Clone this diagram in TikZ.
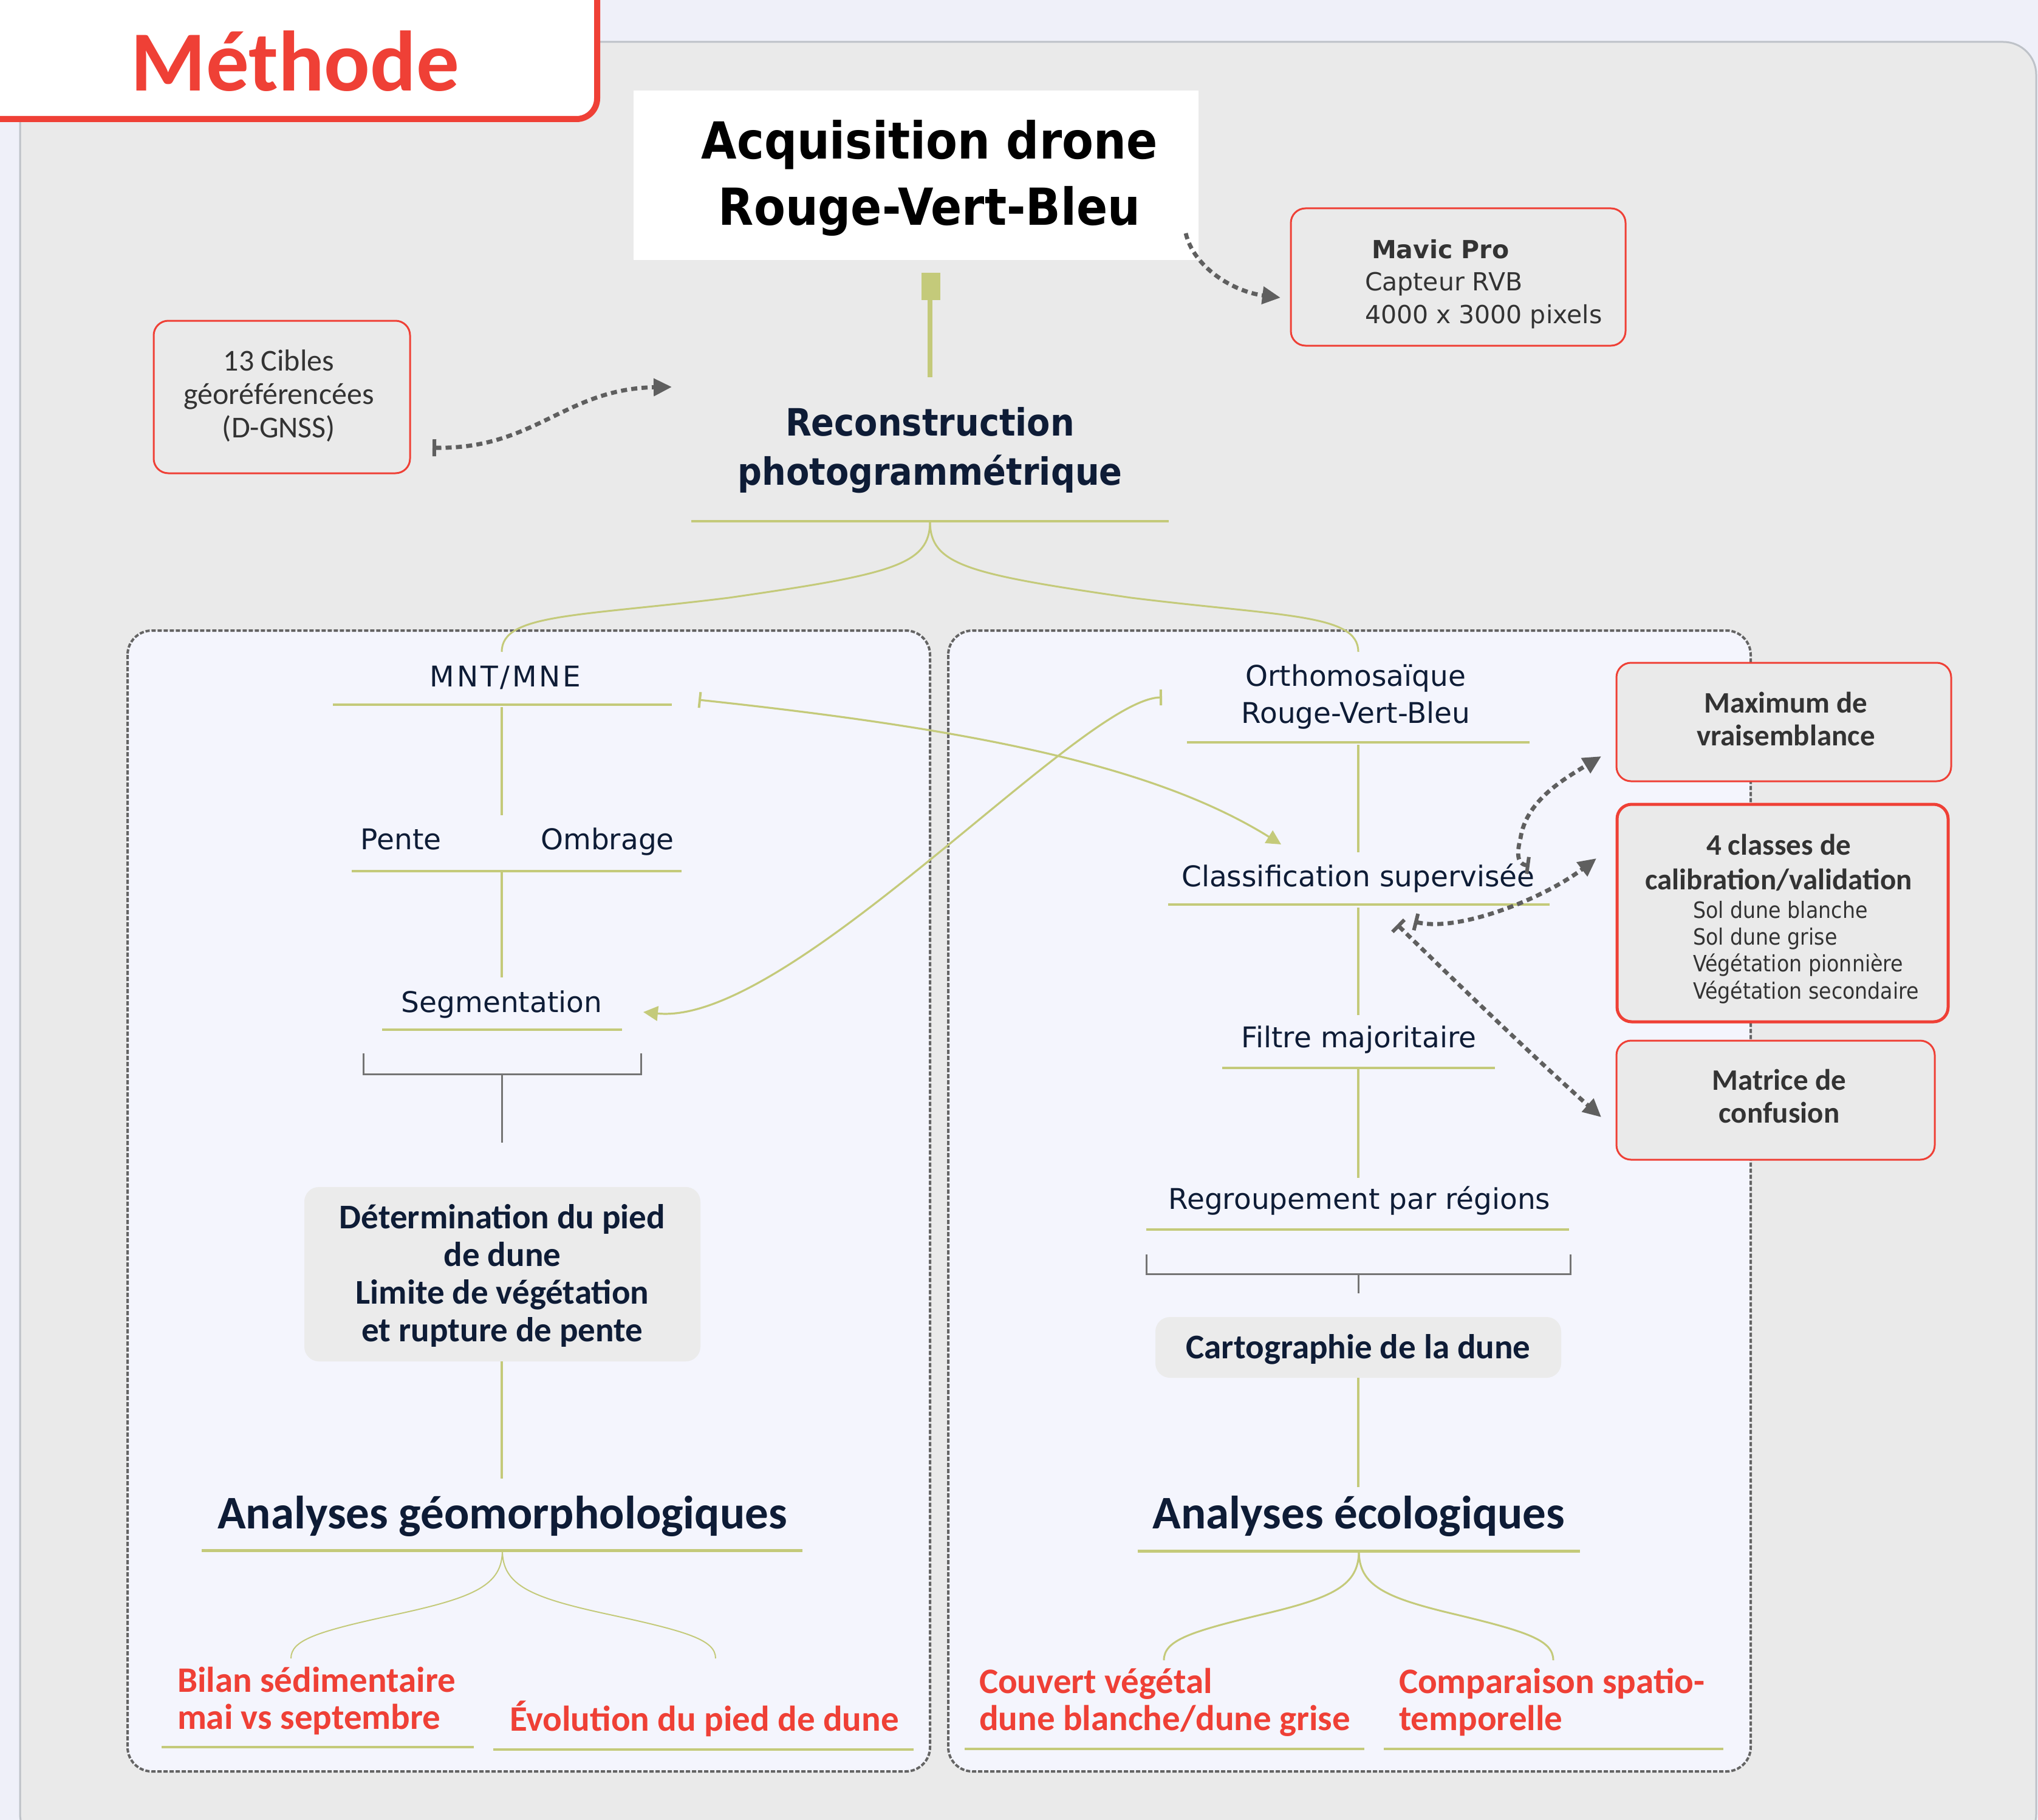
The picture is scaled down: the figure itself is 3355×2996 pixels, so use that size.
\documentclass[tikz,border=0pt]{standalone}
\usepackage{fontspec}
\usetikzlibrary{arrows.meta}
\setmainfont{DejaVu Sans}
\newfontfamily\carl{Carlito}
\newfontfamily\dvs{DejaVu Sans}
\newfontfamily\dvsl{DejaVu Sans}[LetterSpace=8]
\newfontfamily\dvc{DejaVu Sans}[FakeStretch=0.9]
\definecolor{bgl}{RGB}{239,240,249}
\definecolor{panelc}{RGB}{234,234,234}
\definecolor{innerc}{RGB}{244,245,253}
\definecolor{redc}{RGB}{239,64,54}
\definecolor{navy}{RGB}{14,28,54}
\definecolor{oliveC}{RGB}{196,202,122}
\definecolor{dgray}{RGB}{95,95,95}
\definecolor{txtgray}{RGB}{51,51,51}
\definecolor{bordgray}{RGB}{190,194,200}
\definecolor{dashgray}{RGB}{100,100,100}
\definecolor{boxgray}{RGB}{235,235,235}
\newcommand\mlines[2]{\begin{tabular}[t]{@{}#1@{}}#2\end{tabular}}
\newcommand\fs[2]{\fontsize{#1}{#2}\selectfont}
\begin{document}
\begin{tikzpicture}[x=0.5pt,y=-0.5pt,
  every node/.style={inner sep=0pt, outer sep=0pt},
  ul/.style={draw=oliveC, line width=2pt},
  ulh/.style={draw=oliveC, line width=2.5pt},
  vl/.style={draw=oliveC, line width=2pt},
  brk/.style={draw=dashgray!90, line width=1.5pt},
  dotarrow/.style={draw=dgray, line width=3.4pt, dash pattern=on 5pt off 3.5pt, {Bar[width=14pt,line width=3pt]}-{Triangle[length=15pt,width=14pt]}},
  dotarrowb/.style={draw=dgray, line width=3.4pt, dash pattern=on 5pt off 3.5pt, -{Triangle[length=15pt,width=14pt]}},
  olarrow/.style={draw=oliveC, line width=1.6pt, {Bar[width=13pt,line width=2pt]}-{Triangle[length=12pt,width=12pt,fill=oliveC]}},
  redbox/.style={draw=redc, line width=1.5pt, fill=panelc, rounded corners=12pt},
  graybox/.style={fill=boxgray, rounded corners=12pt},
  panelbox/.style={draw=dashgray, fill=innerc, line width=2pt, dash pattern=on 3.5pt off 1.5pt, rounded corners=20pt},
  tree/.style={anchor=base, text=navy, font=\dvs\fs{23.5}{30.5}},
  boxtxt/.style={anchor=base, text=navy, font=\carl\bfseries\fs{28.5}{31}},
  head/.style={anchor=base, text=navy, font=\carl\bfseries\fs{38.5}{44}},
  leaf/.style={anchor=base west, text=redc, font=\carl\bfseries\fs{29.5}{30.5}},
  redtxt/.style={anchor=base, text=txtgray, font=\carl\bfseries\fs{24.5}{27}},
  curve/.style={draw=oliveC, line width=1.5pt}
]
\useasboundingbox (0,0) rectangle (3355,2996);
\fill[bgl] (0,0) rectangle (3355,2996);
\draw[fill=panelc, draw=bordgray, line width=1.5pt, rounded corners=27pt] (33,69) rectangle (3352,3040);

% Title
\draw[fill=white, draw=redc, line width=5pt, rounded corners=17pt] (-40,-40) rectangle (983,196);
\node[anchor=base, text=redc, font=\carl\bfseries\fs{70.5}{80}] (methode) at (486,150) {Méthode};

% Acquisition
\node[fill=white, minimum width=465pt, minimum height=139.5pt] (acq) at (1508,288.5) {};
\node[anchor=base, text=black, font=\dvc\bfseries\fs{42}{54.5}] (acqtxt) at (1530,262) {\mlines{c}{Acquisition drone\\Rouge-Vert-Bleu}};
\fill[oliveC] (1517,449) rectangle (1548,494);
\coordinate (acqlink) at (1531,494);
\coordinate (rectop) at (1531,621);
\draw[oliveC, line width=4pt] (acqlink) -- (rectop);

% Reconstruction
\node[anchor=base, text=navy, font=\dvc\bfseries\fs{31}{40.5}] (rec) at (1531,717) {\mlines{c}{Reconstruction\\photogrammétrique}};
\draw[ul] (1138,858) -- (1924,858);
\coordinate (recB) at (1531,858);
\coordinate (mntTop) at (826,1073);
\coordinate (ortTop) at (2236,1073);

% Cibles
\node[redbox, minimum width=211pt, minimum height=125.5pt] (cib) at (464,653.5) {};
\node[anchor=base, text=txtgray, font=\carl\fs{25}{27.5}] (cibt) at (459,610) {\mlines{c}{13 Cibles\\géoréférencées\\(D-GNSS)}};
\coordinate (cibA) at (712,737);
\coordinate (recL) at (1106,637);
\draw[dotarrow] (cibA) .. controls (880,740) and (930,640) .. (recL);

% Mavic
\node[redbox, minimum width=275.5pt, minimum height=113pt] (mav) at (2400.5,456) {};
\node[anchor=base west, text=txtgray, font=\dvs\fs{20.5}{26.75}] (mavt) at (2247,425) {\mlines{l}{\hspace{5.5pt}\textbf{Mavic Pro}\\Capteur RVB\\4000 x 3000 pixels}};
\coordinate (acqR) at (1952,384);
\coordinate (mavL) at (2108,490);
\draw[dotarrowb] (acqR) .. controls (1965,440) and (2030,480) .. (mavL);

% Panels
\draw[panelbox] (210,1038) rectangle (1531,2916);
\draw[panelbox] (1561,1038) rectangle (2882,2916);

% Reconstruction branches
\draw[curve] (recB) .. controls (1531,930) and (1470,945) .. (1200,984) .. controls (950,1015) and (826,1010) .. (mntTop);
\draw[curve] (recB) .. controls (1531,930) and (1592,945) .. (1862,984) .. controls (2112,1015) and (2236,1010) .. (ortTop);

% Left tree
\node[tree, font=\dvsl\fs{23.5}{30.5}] (mnt) at (832,1130) {MNT/MNE};
\draw[ul] (548,1160) -- (1106,1160);
\draw[vl] (826,1164) -- (826,1342);
\node[tree] (pente) at (660,1398) {Pente};
\node[tree] (ombr) at (1000,1398) {Ombrage};
\draw[ul] (579,1434) -- (1122,1434);
\draw[vl] (826,1434) -- (826,1609);
\node[tree] (seg) at (826,1666) {Segmentation};
\draw[ul] (629,1695) -- (1024,1695);
\draw[brk] (598,1734) -- (598,1768) -- (1055,1768) -- (1055,1734);
\draw[brk] (826,1768) -- (826,1881);
\node[graybox, minimum width=326pt, minimum height=143.5pt] (det) at (827,2097.5) {};
\node[boxtxt] (dett) at (827,2022) {\mlines{c}{Détermination du pied\\de dune\\Limite de végétation\\et rupture de pente}};
\draw[vl] (826,2241) -- (826,2434);
\node[head] (geo) at (827,2516) {Analyses géomorphologiques};
\draw[ulh] (332,2552) -- (1321,2552);
\coordinate (geoB) at (827,2552);
\coordinate (bilT) at (479,2730);
\coordinate (evoT) at (1178,2730);
\draw[draw=oliveC, line width=1pt] (geoB) .. controls (827,2610) and (780,2630) .. (650,2658) .. controls (520,2686) and (479,2700) .. (bilT);
\draw[draw=oliveC, line width=1pt] (geoB) .. controls (827,2610) and (874,2630) .. (1004,2658) .. controls (1134,2686) and (1178,2700) .. (evoT);
\node[leaf] (bil) at (292,2785) {\mlines{l}{Bilan sédimentaire\\mai vs septembre}};
\draw[ul] (266,2876) -- (780,2876);
\node[leaf] (evo) at (839,2849) {Évolution du pied de dune};
\draw[ul] (812,2880) -- (1504,2880);

% Right tree
\node[tree] (ort) at (2232,1129) {\mlines{c}{Orthomosaïque\\Rouge-Vert-Bleu}};
\draw[ul] (1954,1222) -- (2518,1222);
\draw[vl] (2236,1226) -- (2236,1403);
\node[tree] (cla) at (2236,1459) {Classification supervisée};
\draw[ul] (1923,1489) -- (2551,1489);
\draw[vl] (2236,1494) -- (2236,1671);
\node[tree] (fil) at (2237,1724) {Filtre majoritaire};
\draw[ul] (2012,1758) -- (2461,1758);
\draw[vl] (2236,1760) -- (2236,1939);
\node[tree] (reg) at (2238,1990) {Regroupement par régions};
\draw[ul] (1887,2024) -- (2583,2024);
\draw[brk] (1887,2065) -- (1887,2097) -- (2585,2097) -- (2585,2065);
\draw[brk] (2236,2097) -- (2236,2129);
\node[graybox, minimum width=334pt, minimum height=50pt] (carto) at (2236,2218) {};
\node[boxtxt] (cartot) at (2236,2236) {Cartographie de la dune};
\draw[vl] (2236,2268) -- (2236,2448);
\node[head] (eco) at (2237,2516) {Analyses écologiques};
\draw[ulh] (1873,2553) -- (2601,2553);
\coordinate (ecoB) at (2237,2553);
\coordinate (couT) at (1916,2733);
\coordinate (comT) at (2557,2733);
\draw[curve] (ecoB) .. controls (2237,2610) and (2195,2630) .. (2076,2658) .. controls (1960,2686) and (1916,2700) .. (couT);
\draw[curve] (ecoB) .. controls (2237,2610) and (2279,2630) .. (2398,2658) .. controls (2514,2686) and (2557,2700) .. (comT);
\node[leaf] (cou) at (1612,2787) {\mlines{l}{Couvert végétal\\dune blanche/dune grise}};
\draw[ul] (1588,2879) -- (2246,2879);
\node[leaf] (com) at (2303,2787) {\mlines{l}{Comparaison spatio-\\temporelle}};
\draw[ul] (2278,2879) -- (2837,2879);

% Olive cross arrows
\coordinate (mntR) at (1150,1152);
\coordinate (claL) at (2109,1390);
\coordinate (ortL) at (1913,1148);
\coordinate (segR) at (1059,1666);
\draw[olarrow] (mntR) .. controls (1600,1200) and (1900,1260) .. (claL);
\draw[olarrow] (ortL) .. controls (1780,1150) and (1300,1690) .. (segR);

% Right red boxes
\node[redbox, minimum width=275.5pt, minimum height=97.5pt] (maxv) at (2936.5,1188.5) {};
\node[redtxt] (maxt) at (2940,1173) {\mlines{c}{Maximum de\\vraisemblance}};
\node[redbox, line width=2.5pt, minimum width=272.5pt, minimum height=179pt] (cls) at (2934.5,1503) {};
\node[redtxt, font=\carl\bfseries\fs{24.5}{28.5}] (clst) at (2928,1407) {\mlines{c}{4 classes de\\calibration/validation}};
\node[anchor=base west, text=txtgray, font=\dvc\fs{18.5}{22.2}] (clss) at (2787,1511) {\mlines{l}{Sol dune blanche\\Sol dune grise\\Végétation pionnière\\Végétation secondaire}};
\node[redbox, minimum width=262pt, minimum height=98pt] (mat) at (2923,1811) {};
\node[redtxt] (matt) at (2929,1794) {\mlines{c}{Matrice de\\confusion}};

% Dotted arrows from classification
\coordinate (claA) at (2518,1425);
\coordinate (claB) at (2328,1517);
\coordinate (claC) at (2300,1522);
\coordinate (maxL) at (2636,1245);
\coordinate (clsL) at (2628,1413);
\coordinate (matL) at (2636,1839);
\draw[dotarrow] (claA) .. controls (2495,1422) and (2498,1400) .. (2503,1380) .. controls (2512,1320) and (2570,1285) .. (maxL);
\draw[dotarrow] (claB) .. controls (2400,1535) and (2540,1480) .. (clsL);
\draw[dotarrow] (claC) .. controls (2400,1620) and (2530,1745) .. (matL);
\end{tikzpicture}
\end{document}
